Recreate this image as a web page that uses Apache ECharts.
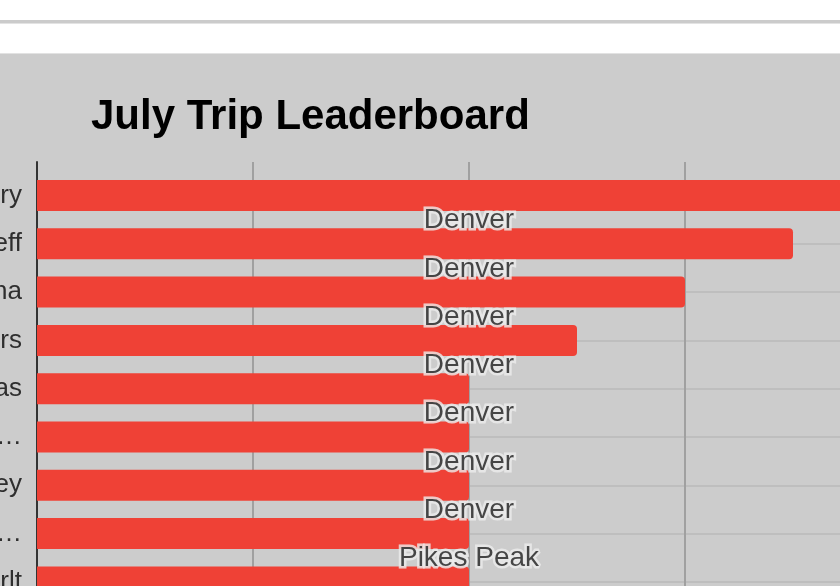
<!DOCTYPE html>
<html><head><meta charset="utf-8">
<script src="https://cdn.jsdelivr.net/npm/echarts@6/dist/echarts.min.js"></script>
<style>
html,body{margin:0;padding:0;background:#fff;width:840px;height:586px;overflow:hidden;}
#topline{position:absolute;left:0;top:20px;width:840px;height:3px;background:#cbcbcb;border-bottom:1px solid #e3e3e3;}
#panel{position:absolute;left:0;top:53px;width:840px;height:532px;background:#cccccc;border-top:1px solid #e2e2e2;}
#chart{position:absolute;left:0;top:0;width:840px;height:586px;}
</style></head><body>
<div id="topline"></div><div id="panel"></div><div id="chart"></div>
<script>
const chartTitle = 'July Trip Leaderboard';
const riders = ['Larry', 'Jeff', 'Tina', 'Travers', 'Thomas', 'Christopher Johnson', 'Casey', 'Alexandra Richardson', 'Hans Herlt'];
const trips = [8, 7, 6, 5, 4, 4, 4, 4, 4];
const destinations = ['Denver', 'Denver', 'Denver', 'Denver', 'Denver', 'Denver', 'Denver', 'Pikes Peak', 'Denver'];
const xMin = 0, xMax = 8, xStep = 2;

const FONT = 'Liberation Sans, Arial, sans-serif';
const chart = echarts.init(document.getElementById('chart'), null, {renderer: 'canvas'});
const labelAnchor = (xMin + xMax) / 2;
const labelPoints = destinations.map((d, i) => ({name: d, value: [labelAnchor, i]}));
const labelBase = {show: true, position: 'inside', offset: [0, 25], formatter: '{b}',
                   fontFamily: FONT, fontSize: 28};

chart.setOption({
  backgroundColor: 'transparent',
  animation: false,
  title: {
    text: chartTitle, left: 91, top: 96, padding: 0,
    textStyle: {fontFamily: FONT, fontSize: 42, fontWeight: 'bold', color: '#000'}
  },
  grid: [
    {left: 37, top: 162, width: 864, height: 460, containLabel: false, outerBoundsMode: 'none'},
    {left: 37, top: 171.35, width: 864, height: 434.7, containLabel: false, outerBoundsMode: 'none'}
  ],
  xAxis: [
    {gridIndex: 0, type: 'value', min: xMin, max: xMax, interval: xStep,
     axisLine: {show: false}, axisTick: {show: false}, axisLabel: {show: false},
     splitLine: {show: true, lineStyle: {color: '#a0a0a0', width: 2}}},
    {gridIndex: 1, type: 'value', min: xMin, max: xMax, interval: xStep, show: false,
     splitLine: {show: false}}
  ],
  yAxis: [
    {gridIndex: 0, type: 'value', min: 0, max: 1,
     axisLine: {show: true, onZero: false, lineStyle: {color: '#333', width: 2}},
     axisTick: {show: false}, axisLabel: {show: false}, splitLine: {show: false}},
    {gridIndex: 1, type: 'category', inverse: true, data: riders,
     axisLine: {show: false}, axisTick: {show: false},
     axisLabel: {fontFamily: FONT, fontSize: 26, color: '#2e2e2e', margin: 15,
                 width: 160, overflow: 'truncate', ellipsis: '…'},
     splitLine: {show: true, alignWithLabel: true, lineStyle: {color: '#bababa', width: 1.5}}}
  ],
  series: [
    {type: 'bar', xAxisIndex: 1, yAxisIndex: 1, data: trips, barWidth: 31,
     itemStyle: {color: '#ef4136', borderRadius: [0, 4, 4, 0]}, z: 2},
    {type: 'scatter', xAxisIndex: 1, yAxisIndex: 1, symbolSize: 1,
     itemStyle: {color: 'rgba(0,0,0,0)'}, z: 4, silent: true, data: labelPoints,
     label: Object.assign({}, labelBase, {color: '#ececec', textBorderColor: '#ececec', textBorderWidth: 5})},
    {type: 'scatter', xAxisIndex: 1, yAxisIndex: 1, symbolSize: 1,
     itemStyle: {color: 'rgba(0,0,0,0)'}, z: 5, silent: true, data: labelPoints,
     label: Object.assign({}, labelBase, {color: '#1a1a1a', textBorderColor: 'transparent', textBorderWidth: 0})}
  ]
});
</script>
</body></html>
